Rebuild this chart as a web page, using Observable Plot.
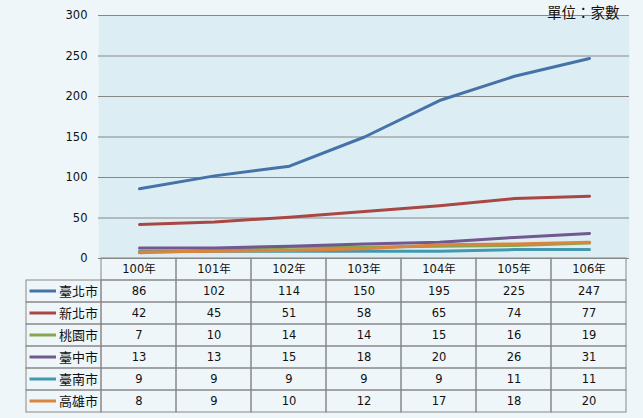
<!DOCTYPE html>
<html>
<head>
<meta charset="utf-8">
<script src="https://cdn.jsdelivr.net/npm/d3@7"></script>
<script src="https://cdn.jsdelivr.net/npm/@observablehq/plot@0.6"></script>
<style>
  html, body { margin: 0; padding: 0; background: #eef6f9; }
  #wrap { position: relative; width: 643px; height: 418px; background: #eef6f9; overflow: hidden;
          font-family: "DejaVu Sans", "Noto Sans CJK TC", sans-serif; }
  #chart, #table { position: absolute; left: 0; }
  #chart { top: 0; }
  #table { top: 257px; }
  svg { overflow: visible; }
</style>
</head>
<body>
<div id="wrap"><div id="chart"></div><div id="table"></div></div>
<script>
const years = ["100年", "101年", "102年", "103年", "104年", "105年", "106年"];
const cities = ["臺北市", "新北市", "桃園市", "臺中市", "臺南市", "高雄市"];
const colors = ["#4572A7", "#AA4643", "#89A54E", "#71588F", "#4198AF", "#DB843D"];
const taipei = [86, 102, 114, 150, 195, 225, 247];
const newTaipei = [42, 45, 51, 58, 65, 74, 77];
const taoyuan = [7, 10, 14, 14, 15, 16, 19];
const taichung = [13, 13, 15, 18, 20, 26, 31];
const tainan = [9, 9, 9, 9, 9, 11, 11];
const kaohsiung = [8, 9, 10, 12, 17, 18, 20];
const yTicks = [0, 50, 100, 150, 200, 250, 300];
const unitLabel = "單位：家數";

const series = [taipei, newTaipei, taoyuan, taichung, tainan, kaohsiung];
const data = [];
cities.forEach((c, i) => years.forEach((y, j) => data.push({city: c, year: y, value: series[i][j]})));

const chart = Plot.plot({
  width: 643,
  height: 270,
  marginTop: 15,
  marginBottom: 12,
  marginLeft: 98,
  marginRight: 14,
  style: {background: "transparent", fontFamily: "DejaVu Sans, Noto Sans CJK TC, sans-serif"},
  x: {type: "point", domain: years, padding: 0.5, align: 0.5, axis: null},
  y: {domain: [0, 300], axis: null},
  color: {domain: cities, range: colors},
  marks: [
    Plot.frame({fill: "#dcedf4", stroke: "none"}),
    Plot.ruleY(yTicks, {stroke: "#878787", strokeWidth: 1}),
    Plot.axisY({ticks: yTicks, tickSize: 0, tickPadding: 11, fontSize: 11.5, stroke: "#878787", fill: "#111", line: true, label: null}),
    Plot.line(data, {x: "year", y: "value", z: "city", stroke: "city", strokeWidth: 3}),
    Plot.text([unitLabel], {frameAnchor: "top-right", dx: -10, dy: -2.5, lineAnchor: "middle", fontSize: 14.5, fill: "#111", fontFamily: "Noto Sans CJK TC"})
  ]
});
document.getElementById("chart").appendChild(chart);

const cellData = [];
cities.forEach((c, i) => {
  cellData.push({city: c, year: ""});
  years.forEach((y, j) => cellData.push({city: c, year: y, value: series[i][j]}));
});
const valueCells = cellData.filter(d => d.year !== "");

const table = Plot.plot({
  width: 643,
  height: 161,
  marginTop: 1,
  marginBottom: 6,
  marginLeft: 22,
  marginRight: 14,
  style: {background: "transparent", fontFamily: "DejaVu Sans, Noto Sans CJK TC, sans-serif"},
  x: {type: "band", domain: ["", ...years], padding: 0, axis: null},
  y: {type: "band", domain: ["head", ...cities], padding: 0, axis: null},
  color: {domain: cities, range: colors},
  marks: [
    Plot.cell(years, {x: d => d, y: () => "head", stroke: "#888", fill: "none"}),
    Plot.cell(cellData, {x: "year", y: "city", stroke: "#888", fill: "none"}),
    Plot.text(years, {x: d => d, y: () => "head", text: d => d, fontSize: 11.5, fill: "#111"}),
    Plot.text(valueCells, {x: "year", y: "city", text: "value", fontSize: 11.5, fill: "#111"}),
    Plot.cell(cities, {x: () => "", y: d => d, fill: d => d, insetTop: 9.5, insetBottom: 9.5, insetLeft: 3.5, insetRight: 45}),
    Plot.text(cities, {x: () => "", y: d => d, text: d => d, textAnchor: "start", dx: -5, fontSize: 13, fill: "#111", fontFamily: "Noto Sans CJK TC"})
  ]
});
document.getElementById("table").appendChild(table);
</script>
</body>
</html>
